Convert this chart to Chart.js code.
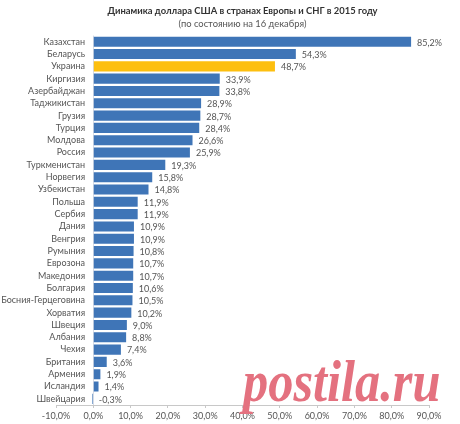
<!DOCTYPE html>
<html><head><meta charset="utf-8">
<style>
html,body{margin:0;padding:0;background:#fff;width:460px;height:424px;overflow:hidden}
#wrap{position:relative;width:460px;height:424px}
#mark{position:absolute;left:243px;top:348px;font:italic bold 60px "Liberation Serif",serif;color:#e4717f;line-height:66px;white-space:nowrap;transform:scaleX(0.84);transform-origin:left top}
</style>
<script src="https://cdn.jsdelivr.net/npm/chart.js@4/dist/chart.umd.min.js"></script>
</head><body>
<div id="wrap"><canvas id="c" width="460" height="424"></canvas><div id="mark">postila.ru</div></div>
<script>
const titleText = 'Динамика доллара США в странах Европы и СНГ в 2015 году';
const subtitleText = '(по состоянию на 16 декабря)';
const categories = ['Казахстан','Беларусь','Украина','Киргизия','Азербайджан','Таджикистан','Грузия','Турция','Молдова','Россия','Туркменистан','Норвегия','Узбекистан','Польша','Сербия','Дания','Венгрия','Румыния','Еврозона','Македония','Болгария','Босния-Герцеговина','Хорватия','Швеция','Албания','Чехия','Британия','Армения','Исландия','Швейцария'];
const values = [85.2,54.3,48.7,33.9,33.8,28.9,28.7,28.4,26.6,25.9,19.3,15.8,14.8,11.9,11.9,10.9,10.9,10.8,10.7,10.7,10.6,10.5,10.2,9.0,8.8,7.4,3.6,1.9,1.4,-0.3];
const highlighted = 'Украина';
const baseColor = '#3f75b7', highlightColor = '#fdbf0f', textColor = '#555555';
const fmt = v => v.toFixed(1).replace('.', ',') + '%';
const FONT = 'Lato,"Open Sans","Noto Sans",sans-serif';

const barLabels = {
  id: 'barLabels',
  afterDatasetsDraw(chart) {
    const ctx = chart.ctx, meta = chart.getDatasetMeta(0);
    ctx.save();
    ctx.font = '9px ' + FONT;
    ctx.fillStyle = textColor;
    ctx.textAlign = 'left';
    ctx.textBaseline = 'middle';
    meta.data.forEach((el, i) => {
      ctx.fillText(fmt(values[i]), Math.max(el.x, el.base) + 6, el.y + 1);
    });
    ctx.restore();
  }
};

new Chart(document.getElementById('c'), {
  type: 'bar',
  data: { labels: categories, datasets: [{
    data: values,
    backgroundColor: categories.map(c => c === highlighted ? highlightColor : baseColor),
    barPercentage: 0.82, categoryPercentage: 1
  }]},
  plugins: [barLabels, { id:'bg', beforeDraw(c){ c.ctx.save(); c.ctx.fillStyle='#fff'; c.ctx.fillRect(0,0,c.width,c.height); c.ctx.restore(); } }],
  options: {
    indexAxis: 'y', responsive: false, animation: false, devicePixelRatio: 1,
    layout: { padding: { left: 56, right: 31, top: 5, bottom: 0 } },
    plugins: {
      legend: { display: false }, tooltip: { enabled: false },
      title: { display: true, text: titleText, color: '#333', font: { family: FONT, size: 9.4, weight: 'bold' }, padding: { top: 0, bottom: 1 } },
      subtitle: { display: true, text: subtitleText, color: '#555', font: { family: FONT, size: 9.4 }, padding: { top: 1, bottom: 6 } }
    },
    scales: {
      x: { type: 'linear', min: -10, max: 90,
        afterFit: s => { s.height = 19; },
        ticks: { stepSize: 10, color: textColor, font: { family: FONT, size: 9 }, callback: v => fmt(v), maxRotation: 0, autoSkip: false, padding: 3 },
        grid: { drawOnChartArea: true, color: c => c.tick && c.tick.value === 0 ? '#d5dbe6' : 'transparent', tickColor: '#c8c8c8', tickLength: 3 }, border: { color: '#c8c8c8' } },
      y: { position: { x: -2.2 },
        ticks: { color: textColor, font: { family: FONT, size: 9 }, autoSkip: false },
        grid: { display: false }, border: { display: false } }
    }
  }
});
</script>
</body></html>
